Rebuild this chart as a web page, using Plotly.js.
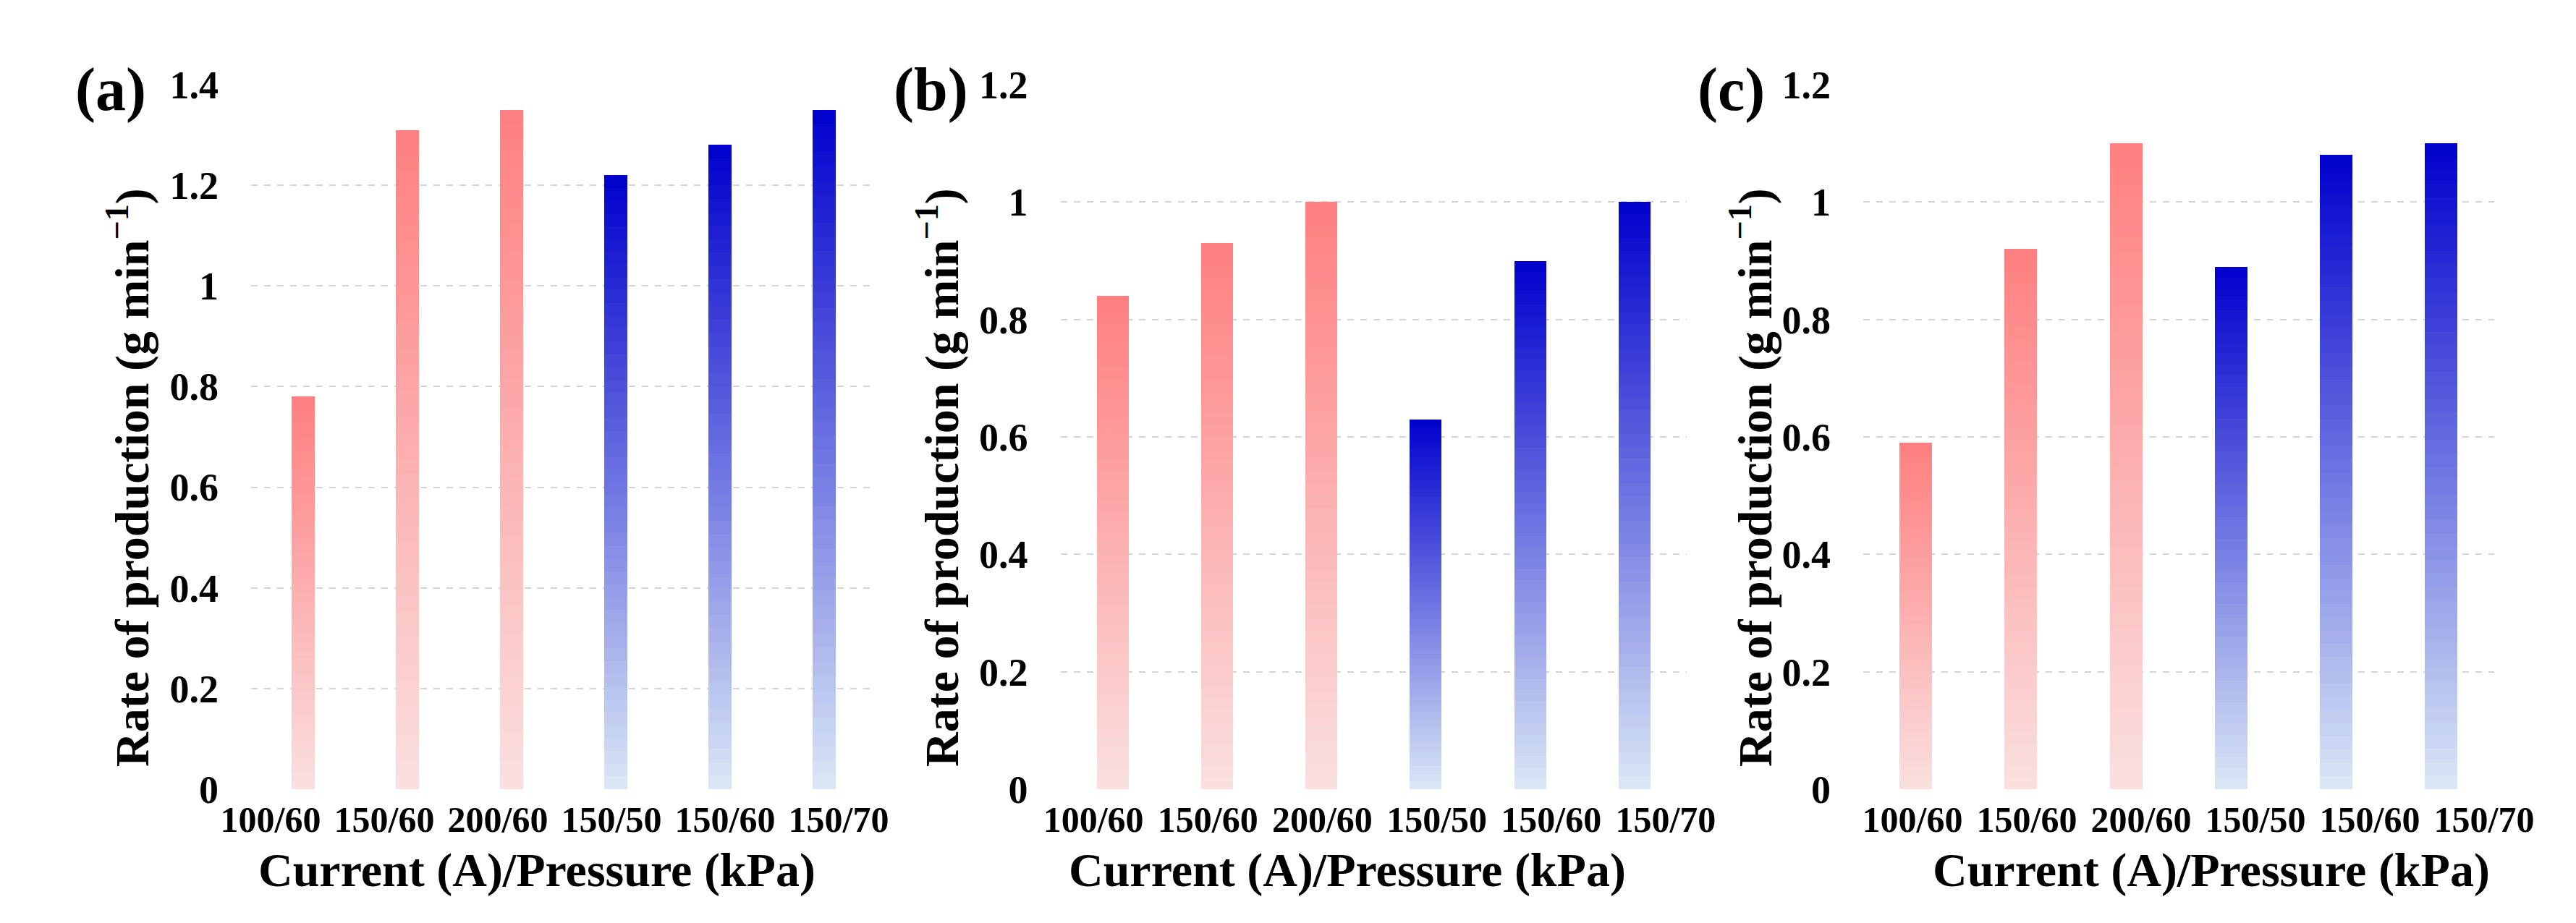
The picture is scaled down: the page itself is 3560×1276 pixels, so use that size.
<!DOCTYPE html>
<html>
<head>
<meta charset="utf-8">
<script src="https://cdn.plot.ly/plotly-3.0.1.min.js"></script>
<style>
  body { margin: 0; background: #fff; }
</style>
</head>
<body>
<div id="myDiv"></div>
<script>
  // categories (Current (A)/Pressure (kPa)); 150/60 appears twice
  var labels = ['100/60', '150/60', '200/60', '150/50', '150/60', '150/70'];
  // which series each bar belongs to: current sweep (red) or pressure sweep (blue)
  var group = ['current', 'current', 'current', 'pressure', 'pressure', 'pressure'];
  // rate of production (g/min)
  var rateA = [0.78, 1.31, 1.35, 1.22, 1.28, 1.35];
  var rateB = [0.84, 0.93, 1.00, 0.63, 0.90, 1.00];
  var rateC = [0.59, 0.92, 1.10, 0.89, 1.08, 1.10];

  var W = 3560, H = 1276;
  var FONT = "Liberation Serif, 'Times New Roman', Times, serif";
  var N = 48; // slices per bar, used to fake the vertical gradient

  // gradient end colours (bottom -> top)
  var grad = {
    current:  { lo: [250, 224, 224], hi: [255, 127, 127] },
    pressure: { lo: [219, 232, 245], hi: [0, 0, 205] }
  };
  function mix(g, t) {
    var c = grad[g];
    var r = Math.round(c.lo[0] + (c.hi[0] - c.lo[0]) * t);
    var gg = Math.round(c.lo[1] + (c.hi[1] - c.lo[1]) * t);
    var b = Math.round(c.lo[2] + (c.hi[2] - c.lo[2]) * t);
    return 'rgb(' + r + ',' + gg + ',' + b + ')';
  }

  var idx = labels.map(function (l, i) { return i; });

  var panels = [
    { vals: rateA, ymax: 1.4, plot: [347, 1211], tick: [295.5, 1237.5], bw: 0.22, tag: '(a)', tagX: 153, ytX: 178, xtX: 742 },
    { vals: rateB, ymax: 1.2, plot: [1465.5, 2331], tick: [1432, 2381], bw: 0.305, tag: '(b)', tagX: 1286, ytX: 1297, xtX: 1862 },
    { vals: rateC, ymax: 1.2, plot: [2575, 3446.5], tick: [2564, 3512], bw: 0.31, tag: '(c)', tagX: 2392, ytX: 2421, xtX: 3056 }
  ];
  var yDom = [(H - 1091) / H, (H - 117) / H];

  var data = [];
  var layout = {
    width: W,
    height: H,
    margin: { l: 0, r: 0, t: 0, b: 0 },
    paper_bgcolor: '#ffffff',
    plot_bgcolor: 'rgba(0,0,0,0)',
    barmode: 'stack',
    showlegend: false,
    font: { family: FONT, color: '#000', weight: 'bold' },
    annotations: []
  };

  panels.forEach(function (p, n) {
    var bx = 'x' + (n + 1), by = 'y' + (n + 1);
    var lx = 'x' + (n + 4), ly = 'y' + (n + 4);

    for (var k = 0; k < N; k++) {
      var t = (k + 0.5) / N;
      data.push({
        type: 'bar',
        x: idx,
        y: p.vals.map(function (v) { return v / N; }),
        width: p.bw,
        xaxis: bx,
        yaxis: by,
        marker: { color: group.map(function (g) { return mix(g, t); }), line: { width: 0 } },
        hoverinfo: 'skip'
      });
    }
    // empty carrier so the label-only axis gets drawn
    data.push({
      type: 'scatter', mode: 'none', x: idx, y: p.vals,
      xaxis: lx, yaxis: ly, hoverinfo: 'skip'
    });

    layout['xaxis' + (n + 1)] = {
      domain: [p.plot[0] / W, p.plot[1] / W],
      anchor: by,
      range: [-0.5, 5.5],
      showgrid: false, zeroline: false, showline: false,
      showticklabels: false, ticks: ''
    };
    layout['yaxis' + (n + 1)] = {
      domain: yDom,
      anchor: bx,
      range: [0, p.ymax],
      dtick: 0.2,
      showgrid: true,
      gridcolor: '#d4d4d4',
      gridwidth: 2,
      griddash: 'dash',
      zeroline: false, showline: false, ticks: '',
      ticklabelstandoff: 44,
      tickfont: { size: 54, family: FONT, weight: 'bold', color: '#000' }
    };
    // separate axis only for the category labels (they sit wider than the bars)
    layout['xaxis' + (n + 4)] = {
      domain: [p.tick[0] / W, p.tick[1] / W],
      anchor: ly,
      range: [-0.5, 5.5],
      tickmode: 'array',
      tickvals: idx,
      ticktext: labels,
      showgrid: false, zeroline: false, showline: false, ticks: '',
      ticklabelstandoff: 8,
      tickfont: { size: 50, family: FONT, weight: 'bold', color: '#000' }
    };
    layout['yaxis' + (n + 4)] = {
      domain: yDom, anchor: lx, range: [0, 1.4],
      showgrid: false, zeroline: false, showline: false, showticklabels: false, ticks: ''
    };

    layout.annotations.push({
      xref: 'paper', yref: 'paper', x: p.tagX / W, y: (H - 124) / H,
      xanchor: 'center', yanchor: 'middle', showarrow: false,
      text: p.tag, font: { size: 84, family: FONT, weight: 'bold', color: '#000' }
    });
    layout.annotations.push({
      xref: 'paper', yref: 'paper', x: p.ytX / W, y: (H - 660) / H,
      xanchor: 'center', yanchor: 'middle', showarrow: false, textangle: -90,
      text: 'Rate of production (g min<sup>\u22121</sup>)',
      font: { size: 66, family: FONT, weight: 'bold', color: '#000' }
    });
    layout.annotations.push({
      xref: 'paper', yref: 'paper', x: p.xtX / W, y: (H - 1203) / H,
      xanchor: 'center', yanchor: 'middle', showarrow: false,
      text: 'Current (A)/Pressure (kPa)',
      font: { size: 66, family: FONT, weight: 'bold', color: '#000' }
    });
  });

  Plotly.newPlot('myDiv', data, layout, { staticPlot: true });
</script>
</body>
</html>
